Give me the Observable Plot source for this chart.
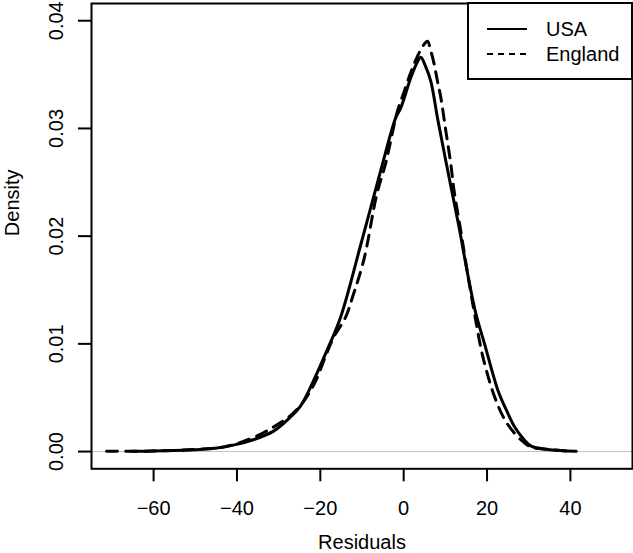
<!DOCTYPE html>
<html>
<head>
<meta charset="utf-8">
<script src="https://cdn.jsdelivr.net/npm/d3@7"></script>
<script src="https://cdn.jsdelivr.net/npm/@observablehq/plot@0.6"></script>
<style>
  html, body { margin: 0; padding: 0; background: white; }
  #wrap { position: relative; width: 633px; height: 553px; }
  #wrap svg [aria-label="x-axis tick"], #wrap svg [aria-label="y-axis tick"] { stroke-width: 2; }
  #legend { position: absolute; left: 0; top: 0; }
</style>
</head>
<body>
<div id="wrap"></div>
<script>
// USA residual density
const usaX = [-65.3, -60.3, -55.3, -50.3, -45.3, -40.9, -36.1, -31.2, -27.2, -24.8, -21.6, -18.4, -15.2, -10.3, -5.5, -1.9, -0.7, 1.7, 3.2, 4.1, 5.2, 6.5, 8.1, 10.1, 13.3, 15.2, 17.2, 19.4, 22.6, 24.7, 26.6, 28.7, 30.6, 34.6, 37.7, 41.4];
const usaY = [0.00002, 0.00005, 0.0001, 0.00018, 0.0003, 0.0006, 0.0011, 0.0019, 0.0032, 0.0042, 0.0066, 0.0094, 0.0124, 0.0192, 0.0261, 0.0310, 0.0319, 0.0347, 0.0361, 0.0366, 0.0358, 0.0344, 0.0310, 0.0270, 0.0208, 0.0168, 0.0130, 0.0100, 0.0057, 0.0038, 0.0023, 0.0012, 0.0005, 0.0002, 0.0001, 0.00002];
// England residual density
const engX = [-71.3, -65.3, -60.3, -55.3, -50.3, -45.3, -40.3, -34.4, -30.3, -27.3, -24.3, -21.3, -18.8, -16.8, -13.9, -12.3, -9.5, -6.5, -4.3, -1.5, 0.0, 1.7, 3.3, 4.7, 5.7, 6.5, 7.3, 8.1, 8.9, 10.1, 11.3, 12.1, 13.7, 15.3, 17.0, 19.0, 21.8, 24.2, 26.6, 28.7, 30.7, 34.7, 39.7];
const engY = [0.00002, 0.00003, 0.00005, 0.0001, 0.0002, 0.0003, 0.0007, 0.0016, 0.0025, 0.0033, 0.0045, 0.0064, 0.0088, 0.0106, 0.0125, 0.0143, 0.0179, 0.0238, 0.0268, 0.0316, 0.0333, 0.0352, 0.0367, 0.0377, 0.0381, 0.0372, 0.0360, 0.0344, 0.0329, 0.0298, 0.0267, 0.0242, 0.0205, 0.0166, 0.0128, 0.0088, 0.0051, 0.0030, 0.0017, 0.0009, 0.0004, 0.0002, 0.00002];

const xTicks = [-60, -40, -20, 0, 20, 40];
const yTicks = [0, 0.01, 0.02, 0.03, 0.04];
const seriesNames = ["USA", "England"];
const xTitle = "Residuals";
const yTitle = "Density";

const usa = usaX.map((x, i) => ({x, y: usaY[i]}));
const eng = engX.map((x, i) => ({x, y: engY[i]}));

const font = "'Liberation Sans', Arial, Helvetica, sans-serif";

const chart = Plot.plot({
  width: 633,
  height: 553,
  marginLeft: 91,
  marginRight: 1,
  marginTop: 3,
  marginBottom: 84.7,
  style: {fontFamily: font, fontSize: "20px", background: "white", color: "black", overflow: "visible"},
  x: {domain: [-74.9, 54.9]},
  y: {domain: [-0.0016, 0.0416]},
  marks: [
    Plot.ruleY([0], {stroke: "#bebebe", strokeWidth: 1}),
    Plot.line(usa, {x: "x", y: "y", stroke: "black", strokeWidth: 3, curve: "catmull-rom"}),
    Plot.line(eng, {x: "x", y: "y", stroke: "black", strokeWidth: 3, strokeDasharray: "11,8", curve: "catmull-rom"}),
    Plot.frame({stroke: "black", strokeWidth: 2}),
    Plot.axisX({ticks: xTicks, tickSize: 13, tickPadding: 19, label: null}),
    Plot.axisY({ticks: yTicks, tickSize: 13, tickPadding: 16, tickRotate: -90, tickFormat: d3.format(".2f"), label: null}),
    Plot.text([yTitle], {text: d => d, frameAnchor: "left", dx: -79, rotate: -90, fill: "black"}),
    Plot.text([xTitle], {text: d => d, frameAnchor: "bottom", dy: 80, lineAnchor: "bottom", fill: "black"})
  ]
});

const wrap = document.getElementById("wrap");
wrap.appendChild(chart);

// Legend (R-style box in the top-right corner)
const ns = "http://www.w3.org/2000/svg";
const leg = document.createElementNS(ns, "svg");
leg.setAttribute("id", "legend");
leg.setAttribute("width", 633);
leg.setAttribute("height", 100);
leg.style.pointerEvents = "none";
const rect = document.createElementNS(ns, "rect");
rect.setAttribute("x", 468); rect.setAttribute("y", 3);
rect.setAttribute("width", 164); rect.setAttribute("height", 76);
rect.setAttribute("fill", "white"); rect.setAttribute("stroke", "black"); rect.setAttribute("stroke-width", 2);
leg.appendChild(rect);
const rowsY = [29, 54];
const dashes = [null, "6,5"];
seriesNames.forEach((name, i) => {
  const ln = document.createElementNS(ns, "line");
  ln.setAttribute("x1", 487); ln.setAttribute("x2", 527);
  ln.setAttribute("y1", rowsY[i]); ln.setAttribute("y2", rowsY[i]);
  ln.setAttribute("stroke", "black"); ln.setAttribute("stroke-width", 2);
  if (dashes[i]) ln.setAttribute("stroke-dasharray", dashes[i]);
  leg.appendChild(ln);
  const t = document.createElementNS(ns, "text");
  t.setAttribute("x", 546); t.setAttribute("y", rowsY[i] + 7.3);
  t.setAttribute("font-family", font); t.setAttribute("font-size", 20);
  t.setAttribute("fill", "black");
  t.textContent = name;
  leg.appendChild(t);
});
wrap.appendChild(leg);
</script>
</body>
</html>
